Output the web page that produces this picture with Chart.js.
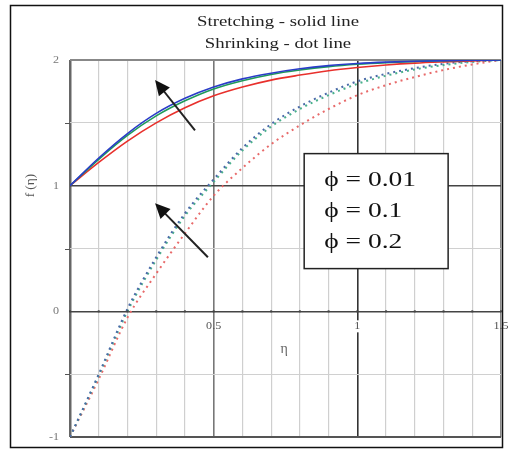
<!DOCTYPE html>
<html>
<head>
<meta charset="utf-8">
<script src="https://cdn.jsdelivr.net/npm/chart.js@4/dist/chart.umd.min.js"></script>
<style>
  html, body { margin: 0; padding: 0; background: #fff; }
  #wrap { width: 512px; height: 452px; }
</style>
</head>
<body>
<div id="wrap"><canvas id="chart"></canvas></div>
<script>
// similarity variable eta, sampled every 0.1
const eta = [0, 0.1, 0.2, 0.3, 0.4, 0.5, 0.6, 0.7, 0.8, 0.9, 1.0, 1.1, 1.2, 1.3, 1.4, 1.5];

// stretching sheet (solid)
const stretch001 = [1, 1.22, 1.415, 1.575, 1.695, 1.785, 1.85, 1.895, 1.93, 1.955, 1.972, 1.983, 1.99, 1.995, 1.998, 2.0];
const stretch01  = [1, 1.21, 1.40, 1.555, 1.675, 1.77, 1.835, 1.885, 1.92, 1.947, 1.966, 1.979, 1.988, 1.994, 1.998, 2.0];
const stretch02  = [1, 1.185, 1.355, 1.50, 1.62, 1.715, 1.785, 1.84, 1.88, 1.915, 1.94, 1.96, 1.975, 1.985, 1.993, 2.0];

// shrinking sheet (dotted)
const shrink001 = [-1, -0.50, 0.02, 0.43, 0.78, 1.05, 1.30, 1.49, 1.63, 1.74, 1.83, 1.89, 1.935, 1.97, 1.99, 2.0];
const shrink01  = [-1, -0.51, 0.00, 0.41, 0.76, 1.03, 1.28, 1.47, 1.61, 1.72, 1.81, 1.875, 1.925, 1.96, 1.985, 2.0];
const shrink02  = [-1, -0.54, -0.05, 0.30, 0.62, 0.92, 1.14, 1.33, 1.48, 1.61, 1.72, 1.80, 1.865, 1.92, 1.965, 2.0];

const phiLabels = ['\u03D5 = 0.01', '\u03D5 = 0.1', '\u03D5 = 0.2'];
const xTickLabels = [0.5, 1, 1.5];
const yTickLabels = [2, 1, 0, -1];

const SERIF = '"Liberation Serif", "DejaVu Serif", serif';

function pts(ys) {
  return eta.map((x, i) => ({ x: x, y: ys[i] }));
}

function line(label, ys, color, dotted, order) {
  return {
    label: label,
    data: pts(ys),
    borderColor: color,
    borderWidth: dotted ? 2 : 1.6,
    borderDash: dotted ? [2, 4] : [],
    pointRadius: 0,
    fill: false,
    cubicInterpolationMode: 'monotone',
    order: order
  };
}

// text stretched horizontally by sx around (x, y)
function text(ctx, str, x, y, size, color, align, sx) {
  ctx.save();
  ctx.translate(x, y);
  ctx.scale(sx || 1, 1);
  ctx.font = size + 'px ' + SERIF;
  ctx.fillStyle = color;
  ctx.textAlign = align || 'center';
  ctx.textBaseline = 'middle';
  ctx.fillText(str, 0, 0);
  ctx.restore();
}

function arrow(ctx, x0, y0, x1, y1) {
  const a = Math.atan2(y1 - y0, x1 - x0);
  const head = 15, half = 7;
  ctx.save();
  ctx.strokeStyle = '#222';
  ctx.fillStyle = '#111';
  ctx.lineWidth = 2;
  ctx.beginPath();
  ctx.moveTo(x0, y0);
  ctx.lineTo(x1 - head * 0.8 * Math.cos(a), y1 - head * 0.8 * Math.sin(a));
  ctx.stroke();
  ctx.beginPath();
  ctx.moveTo(x1, y1);
  ctx.lineTo(x1 - head * Math.cos(a) + half * Math.sin(a), y1 - head * Math.sin(a) - half * Math.cos(a));
  ctx.lineTo(x1 - head * Math.cos(a) - half * Math.sin(a), y1 - head * Math.sin(a) + half * Math.cos(a));
  ctx.closePath();
  ctx.fill();
  ctx.restore();
}

const decor = {
  id: 'decor',
  beforeDraw(chart) {
    const ctx = chart.ctx;
    ctx.save();
    ctx.fillStyle = '#fff';
    ctx.fillRect(0, 0, chart.width, chart.height);
    ctx.strokeStyle = '#111';
    ctx.lineWidth = 1.5;
    ctx.strokeRect(10.5, 5.5, 492, 442);
    ctx.restore();
  },
  afterDraw(chart) {
    const ctx = chart.ctx;
    const xs = chart.scales.x, ys = chart.scales.y;
    const area = chart.chartArea;

    // title
    const cx = 278;
    text(ctx, 'Stretching - solid line', cx, 22, 15, '#222', 'center', 1.25);
    text(ctx, 'Shrinking - dot line', cx, 44, 15, '#222', 'center', 1.25);

    // small tick marks on the axes
    ctx.save();
    ctx.strokeStyle = '#555';
    ctx.lineWidth = 1;
    [-0.5, 0.5, 1.5].forEach(v => {
      const y = Math.round(ys.getPixelForValue(v)) + 0.5;
      ctx.beginPath();
      ctx.moveTo(area.left - 5, y);
      ctx.lineTo(area.left, y);
      ctx.stroke();
    });
    const y0 = ys.getPixelForValue(0);
    ctx.fillStyle = '#444';
    eta.forEach(v => {
      ctx.fillRect(xs.getPixelForValue(v) - 1, y0 - 1, 2, 2);
    });
    ctx.restore();

    // tick labels
    xTickLabels.forEach(v => {
      const x = xs.getPixelForValue(v);
      if (v === 1) {
        // keep the label readable on top of the dark gridline
        ctx.save();
        ctx.fillStyle = '#fff';
        ctx.fillRect(x - 3, y0 + 9, 6, 12);
        ctx.restore();
      }
      text(ctx, String(v), x, y0 + 15, 11, '#555', 'center', 1.1);
    });
    yTickLabels.forEach(v => {
      text(ctx, String(v), area.left - 11, ys.getPixelForValue(v), 11, '#777', 'right', 1.1);
    });

    // axis titles
    text(ctx, '\u03B7', xs.getPixelForValue(0.745), ys.getPixelForValue(-0.3), 14, '#666', 'center', 1);
    ctx.save();
    ctx.translate(31, ys.getPixelForValue(1));
    ctx.rotate(-Math.PI / 2);
    text(ctx, 'f (\u03B7)', 0, 0, 12, '#555', 'center', 1.1);
    ctx.restore();

    // direction arrows
    arrow(ctx, xs.getPixelForValue(0.435), ys.getPixelForValue(1.44),
               xs.getPixelForValue(0.296), ys.getPixelForValue(1.84));
    arrow(ctx, xs.getPixelForValue(0.48), ys.getPixelForValue(0.43),
               xs.getPixelForValue(0.296), ys.getPixelForValue(0.86));

    // phi box
    const bx0 = xs.getPixelForValue(0.815), bx1 = xs.getPixelForValue(1.316);
    const by0 = ys.getPixelForValue(1.255), by1 = ys.getPixelForValue(0.34);
    ctx.save();
    ctx.fillStyle = '#fff';
    ctx.fillRect(bx0, by0, bx1 - bx0, by1 - by0);
    ctx.strokeStyle = '#222';
    ctx.lineWidth = 1.5;
    ctx.strokeRect(bx0, by0, bx1 - bx0, by1 - by0);
    ctx.restore();
    const rows = [180, 211, 242];
    phiLabels.forEach((s, i) => {
      text(ctx, s, bx0 + 20, rows[i], 22, '#111', 'left', 1.25);
    });
  }
};

function xGridColor(c) {
  const k = Math.round(c.tick.value * 10);
  if (k === 0) return '#666';
  if (k === 10) return '#333';
  if (k === 5) return '#777';
  if (k === 15) return '#888';
  return '#cfcfcf';
}
function xGridWidth(c) {
  const k = Math.round(c.tick.value * 10);
  if (k === 0) return 2.5;
  if (k % 5 === 0) return 1.6;
  return 1.2;
}
function yGridColor(c) {
  const v = c.tick.value;
  if (v === 2) return '#888';
  if (v === 1 || v === 0) return '#444';
  if (v === -1) return '#555';
  return '#d0d0d0';
}
function yGridWidth(c) {
  const v = c.tick.value;
  if (v === 2 || v === -1) return 2;
  if (v === 1 || v === 0) return 1.6;
  return 1;
}

new Chart(document.getElementById('chart'), {
  type: 'line',
  data: {
    datasets: [
      line(phiLabels[0] + ' stretching', stretch001, '#2a3cc8', false, 0),
      line(phiLabels[1] + ' stretching', stretch01, '#1f9a5a', false, 1),
      line(phiLabels[2] + ' stretching', stretch02, '#e8302c', false, 2),
      line(phiLabels[0] + ' shrinking', shrink001, '#4a6aa8', true, 3),
      line(phiLabels[1] + ' shrinking', shrink01, '#4ab08c', true, 4),
      line(phiLabels[2] + ' shrinking', shrink02, '#e86a6a', true, 5)
    ]
  },
  options: {
    responsive: true,
    maintainAspectRatio: false,
    animation: false,
    layout: { padding: { left: 70, top: 60, right: 11, bottom: 15 } },
    plugins: {
      legend: { display: false },
      title: { display: false },
      tooltip: { enabled: false }
    },
    scales: {
      x: {
        type: 'linear', min: 0, max: 1.5,
        ticks: { stepSize: 0.1, display: false },
        grid: { color: xGridColor, lineWidth: xGridWidth, drawTicks: false },
        border: { display: false }
      },
      y: {
        type: 'linear', min: -1, max: 2,
        ticks: { stepSize: 0.5, display: false },
        grid: { color: yGridColor, lineWidth: yGridWidth, drawTicks: false },
        border: { display: false }
      }
    }
  },
  plugins: [decor]
});
</script>
</body>
</html>
